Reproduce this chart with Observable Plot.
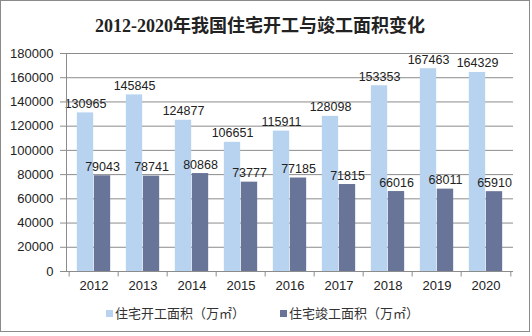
<!DOCTYPE html>
<html>
<head>
<meta charset="utf-8">
<script src="https://cdn.jsdelivr.net/npm/d3@7"></script>
<script src="https://cdn.jsdelivr.net/npm/@observablehq/plot@0.6"></script>
<style>
  body { margin: 0; background: #fff; }
  #wrap { position: relative; width: 532px; height: 336px; overflow: hidden; background:#fff; }
  #border { position: absolute; left: 0; top: 0; width: 528px; height: 330px; border: 1px solid #8a8a8a; }
  #title { position: absolute; left: 0; width: 520px; top: 11px; text-align: center;
    font: bold 18px "Liberation Serif", "Noto Sans CJK SC", serif; color: #222; }
  #chart { position: absolute; left: 0; top: 0; }
  .leg { position: absolute; top: 303px; font: 13px "Noto Sans CJK SC", sans-serif; color: #333; white-space: nowrap; }
  .sw { display: inline-block; width: 7px; height: 7px; margin-right: 2px; vertical-align: 1px; }
</style>
</head>
<body>
<div id="wrap">
  <div id="border"></div>
  <div id="chart"></div>
  <div id="title"></div>
  <div class="leg" style="left:106px"><span class="sw" id="sw0"></span><span id="lg0"></span></div>
  <div class="leg" style="left:280px"><span class="sw" id="sw1"></span><span id="lg1"></span></div>
</div>
<script>
const title = "2012-2020年我国住宅开工与竣工面积变化";
const years = ["2012","2013","2014","2015","2016","2017","2018","2019","2020"];
const seriesNames = ["住宅开工面积（万㎡）", "住宅竣工面积（万㎡）"];
const startArea = [130965,145845,124877,106651,115911,128098,153353,167463,164329];
const completeArea = [79043,78741,80868,73777,77185,71815,66016,68011,65910];
const yTicks = [0,20000,40000,60000,80000,100000,120000,140000,160000,180000];
const colors = ["#b8d3ef", "#687599"];

document.getElementById("title").textContent = title;
document.getElementById("lg0").textContent = seriesNames[0];
document.getElementById("lg1").textContent = seriesNames[1];
document.getElementById("sw0").style.background = colors[0];
document.getElementById("sw1").style.background = colors[1];

const dataA = years.map((y, i) => ({year: y, value: startArea[i]}));
const dataB = years.map((y, i) => ({year: y, value: completeArea[i]}));

const W = 532, mL = 66, mR = 19;
const bw = (W - mL - mR) / years.length;
const barW = 17, pad = (bw - 2 * barW) / 2;

const font = "Liberation Sans, Arial, sans-serif";
const chart = Plot.plot({
  width: W,
  height: 300,
  marginTop: 53,
  marginBottom: 29,
  marginLeft: mL,
  marginRight: mR,
  style: {fontFamily: font, fontSize: "13px", color: "#222", background: "transparent"},
  x: {type: "band", domain: years, padding: 0, label: null},
  y: {domain: [0, 180000], label: null},
  marks: [
    Plot.gridY(yTicks, {stroke: "#8c8c8c", strokeOpacity: 1}),
    Plot.barY(dataA, {x: "year", y: "value", fill: colors[0], insetLeft: pad, insetRight: bw - pad - barW}),
    Plot.barY(dataB, {x: "year", y: "value", fill: colors[1], insetLeft: pad + barW, insetRight: pad}),
    Plot.text(dataA, {x: "year", y: "value", text: d => String(d.value), dx: pad + barW / 2 - bw / 2, dy: -5, lineAnchor: "bottom", fontSize: 12.5, fill: "#222"}),
    Plot.text(dataB, {x: "year", y: "value", text: d => String(d.value), dx: pad + barW * 1.5 - bw / 2, dy: -5, lineAnchor: "bottom", fontSize: 12.5, fill: "#222"}),
    Plot.ruleY([0], {stroke: "#8c8c8c"}),
    Plot.ruleX(years, {x: d => d, dx: -bw / 2, y1: 0, y2: -4500, stroke: "#8c8c8c"}),
    Plot.ruleX([years[years.length - 1]], {x: d => d, dx: bw / 2, y1: 0, y2: -4500, stroke: "#8c8c8c"}),
    Plot.axisY(yTicks, {tickSize: 6, tickPadding: 7, stroke: "#8c8c8c", fontSize: 13, fill: "#222", tickFormat: d => String(d)}),
    Plot.frame({anchor: "left", stroke: "#8c8c8c"}),
    Plot.axisX({tickSize: 0, tickPadding: 9, fontSize: 13, fill: "#222", label: null})
  ]
});
document.getElementById("chart").appendChild(chart);
</script>
</body>
</html>
